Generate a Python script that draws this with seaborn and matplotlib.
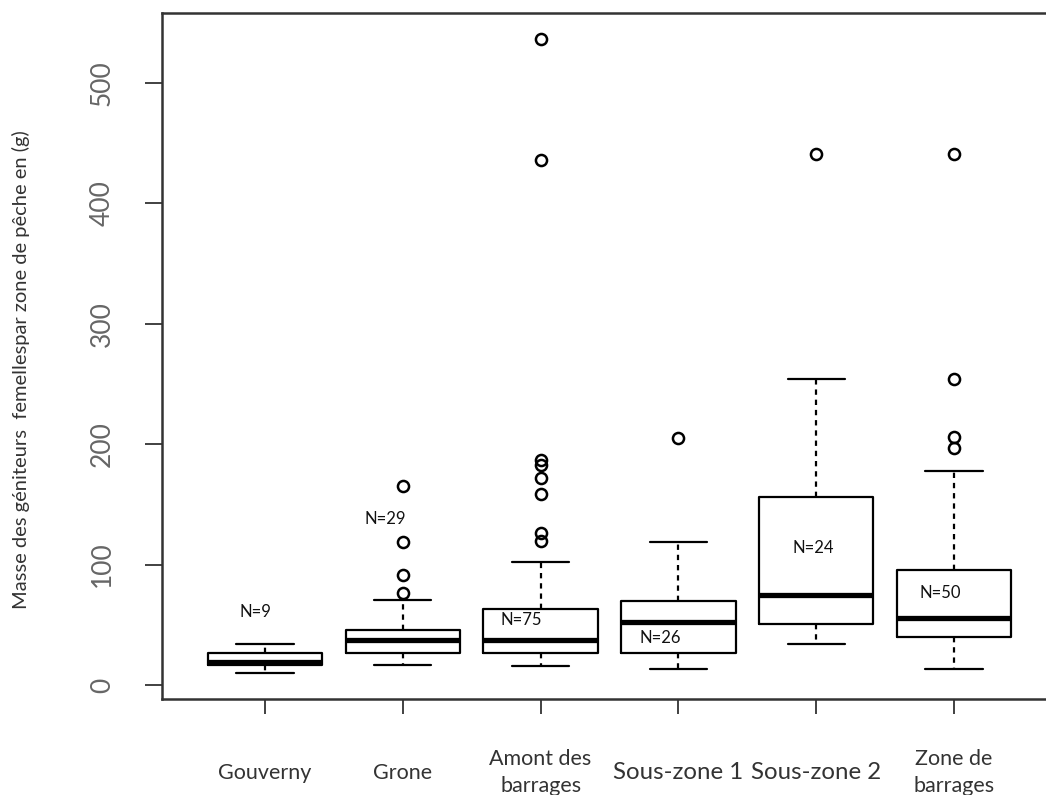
import numpy as np
import pandas as pd
import matplotlib
matplotlib.use("Agg")
import matplotlib.pyplot as plt
import seaborn as sns

# ---- data ----
zones = ["Gouverny", "Grone", "Amont des\nbarrages", "Sous-zone 1", "Sous-zone 2", "Zone de\nbarrages"]
whisker_low = [10, 17, 16, 13, 34, 13]
q1 = [17, 26.5, 26.5, 26.5, 50.5, 40]
median = [19.5, 37, 37, 52, 75, 55.5]
q3 = [26.5, 46, 63, 70, 156.5, 95.5]
whisker_high = [34, 70.5, 102, 119, 254.5, 177.5]
outliers = [
    [],
    [76.5, 91, 118.5, 165],
    [120, 126, 159, 172, 183, 187, 436, 536],
    [205.5],
    [441],
    [197, 206, 254, 441],
]
n_counts = [9, 29, 75, 26, 24, 50]
n_label_y = [61, 138, 54, 39, 114, 76]
n_label_dx = [-0.07, -0.13, -0.14, -0.13, -0.02, -0.1]
label_sizes = [15.5, 15.5, 15.5, 17.3, 17.3, 15.5]
yticks = [0, 100, 200, 300, 400, 500]

# build a sample per zone that reproduces the read five-number summary
rows = []
for z, lo, a, m, b, hi, out in zip(zones, whisker_low, q1, median, q3, whisker_high, outliers):
    k = 1 + len(out)
    vals = [lo] + [a] * k + [m] * k + [b] * k + [hi] + list(out)
    rows += [(z, v) for v in vals]
df = pd.DataFrame(rows, columns=["zone", "masse"])

sns.set_theme(style="ticks")
plt.rcParams["font.family"] = ["Lato", "DejaVu Sans"]

fig = plt.figure(figsize=(10.46, 7.95), dpi=100)
ax = fig.add_axes([162 / 1046, 96 / 795, 884 / 1046, 686 / 795])

lw = 1.6
sns.boxplot(
    data=df, x="zone", y="masse", order=zones, ax=ax,
    width=0.83, fill=False, color="black", linecolor="black", linewidth=lw,
    boxprops=dict(color="black", linewidth=lw),
    medianprops=dict(color="black", linewidth=3.8, solid_capstyle="butt"),
    whiskerprops=dict(color="black", linewidth=lw, linestyle=(0, (2.4, 2.2))),
    capprops=dict(color="black", linewidth=lw),
    flierprops=dict(marker="o", markerfacecolor="none", markeredgecolor="black",
                    markersize=8, markeredgewidth=1.8),
)

for i, (n, yv, dx) in enumerate(zip(n_counts, n_label_y, n_label_dx)):
    ax.text(i + dx, yv, f"N={n}", fontsize=12, color="#111111", ha="center", va="center")

ax.set_xlim(-0.747, 5.667)
ax.set_ylim(-11.6, 558)
ax.set_yticks(yticks)
ax.set_yticklabels([str(v) for v in yticks], rotation=90, va="center", ha="right",
                   fontsize=19, color="#666666")
ax.tick_params(axis="y", length=12, width=1.3, color="#333333", pad=22)
ax.tick_params(axis="x", length=11, width=1.3, color="#333333", pad=42)
ax.set_xticks(range(len(zones)))
ax.set_xticklabels(zones, color="#333333", linespacing=1.4)
for lab, s in zip(ax.get_xticklabels(), label_sizes):
    lab.set_fontsize(s)
    lab.set_verticalalignment("center")

ax.set_xlabel("")
ax.set_ylabel("Masse des géniteurs  femellespar zone de pêche en (g)", fontsize=14.5, color="#333333")
ax.yaxis.set_label_coords(-0.149, 0.48)

for side in ["left", "bottom", "top"]:
    ax.spines[side].set_color("#333333")
    ax.spines[side].set_linewidth(1.8)
ax.spines["right"].set_visible(False)

fig.savefig("out.png", dpi=100, facecolor="white")
